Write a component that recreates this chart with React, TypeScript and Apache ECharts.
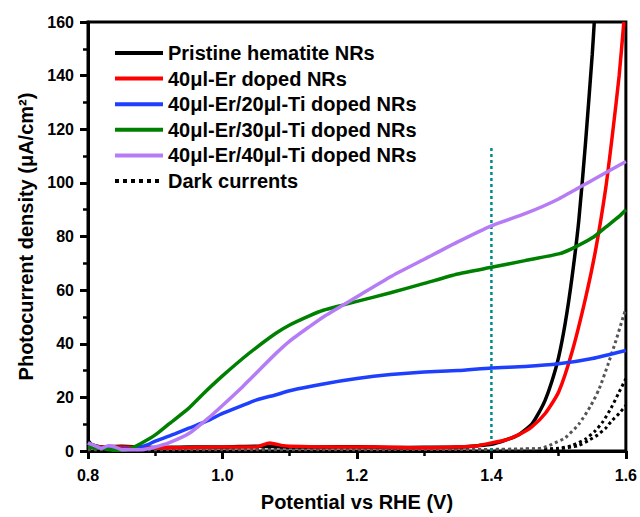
import React, { useEffect, useRef } from "react";
import * as echarts from "echarts";

// ---- data ----
const xTicks = [0.8, 1.0, 1.2, 1.4, 1.6];

const pristineX = [0.80, 0.805, 0.82, 0.85, 0.9, 0.95, 1.0, 1.05, 1.1, 1.15, 1.2, 1.25, 1.3, 1.35, 1.38, 1.40, 1.42, 1.44, 1.46, 1.47, 1.48, 1.49, 1.50, 1.51, 1.52, 1.53, 1.54, 1.55, 1.553];
const pristineY = [4, 2.5, 1.5, 1.8, 1.3, 1.5, 1.5, 1.8, 1.5, 1.5, 1.6, 1.3, 1.4, 1.5, 2, 2.5, 4, 6, 10, 14, 19, 26, 35, 48, 65, 86, 115, 148, 160];

const erX = [0.80, 0.82, 0.85, 0.9, 0.95, 1.0, 1.05, 1.07, 1.09, 1.1, 1.15, 1.2, 1.25, 1.3, 1.35, 1.38, 1.40, 1.42, 1.44, 1.46, 1.48, 1.50, 1.52, 1.54, 1.555, 1.57, 1.58, 1.59, 1.597];
const erY = [2, 1.5, 1.5, 1.2, 1.3, 1.5, 1.5, 3, 2, 1.8, 1.5, 1.5, 1.4, 1.2, 1.5, 2, 3, 4, 6, 9, 14, 22, 37, 57, 75, 98, 118, 140, 160];

const ti20X = [0.80, 0.81, 0.83, 0.85, 0.87, 0.89, 0.9, 0.93, 0.95, 0.98, 1.0, 1.03, 1.05, 1.08, 1.1, 1.15, 1.2, 1.25, 1.3, 1.35, 1.4, 1.45, 1.5, 1.55, 1.6];
const ti20Y = [3, 1.5, 1, 0.8, 1, 2.5, 3.7, 6.5, 8.5, 11.5, 14, 17, 19, 21, 22.5, 25, 27, 28.5, 29.5, 30, 31, 31.5, 32.5, 34.5, 37.5];

const ti30X = [0.80, 0.82, 0.84, 0.85, 0.86, 0.88, 0.9, 0.92, 0.95, 0.97, 1.0, 1.03, 1.05, 1.08, 1.1, 1.13, 1.15, 1.18, 1.2, 1.25, 1.3, 1.35, 1.4, 1.45, 1.5, 1.52, 1.55, 1.57, 1.59, 1.6];
const ti30Y = [1.5, 1, 0.3, 0.3, 0.5, 3, 6, 10, 16, 21, 28, 34.5, 38.5, 44, 47, 50.5, 52.5, 54.5, 55.8, 59, 62.5, 66, 68.5, 71, 73.5, 75.5, 79.5, 83.5, 87.5, 90];

const ti40X = [0.80, 0.81, 0.82, 0.83, 0.84, 0.85, 0.86, 0.88, 0.9, 0.92, 0.95, 0.98, 1.0, 1.03, 1.05, 1.08, 1.1, 1.13, 1.15, 1.2, 1.25, 1.3, 1.35, 1.4, 1.45, 1.5, 1.55, 1.6];
const ti40Y = [3, 2, 1, 2, 1.5, 0.5, 0.5, 0.5, 1.5, 3, 6.5, 12.5, 17, 24, 29, 36.5, 41, 46.5, 50, 57.5, 65, 71.5, 78, 84, 88.5, 94, 101, 108];

const dark1X = [0.8, 1.0, 1.2, 1.4, 1.45, 1.474, 1.49, 1.51, 1.53, 1.548, 1.56, 1.573, 1.585, 1.596, 1.6];
const dark1Y = [0.5, 0.5, 0.5, 0.6, 0.8, 1, 2.5, 5, 10, 17, 23, 32, 41, 50, 53];

const dark2X = [0.8, 1.0, 1.2, 1.4, 1.45, 1.5, 1.519, 1.54, 1.554, 1.566, 1.578, 1.59, 1.6];
const dark2Y = [0.5, 0.5, 0.5, 0.5, 0.6, 1, 2, 4.5, 7.4, 11, 16, 22, 27];

const dark3X = [0.8, 1.0, 1.2, 1.4, 1.5, 1.529, 1.545, 1.558, 1.57, 1.578, 1.59, 1.6];
const dark3Y = [0.3, 0.3, 0.3, 0.3, 0.8, 2, 4, 6, 8.5, 11, 14, 17];

const refX = [1.4, 1.4];
const refY = [0, 113];

const names = [
  "Pristine hematite NRs",
  "40μl-Er doped NRs",
  "40μl-Er/20μl-Ti doped NRs",
  "40μl-Er/30μl-Ti doped NRs",
  "40μl-Er/40μl-Ti doped NRs",
  "Dark currents",
];

const zip = (xs: number[], ys: number[]) => xs.map((x, i) => [x, ys[i]]);

const FONT = "'Liberation Sans', Arial, sans-serif";

export default function App() {
  const ref = useRef<HTMLDivElement>(null);
  useEffect(() => {
    if (!ref.current) return;
    const chart = echarts.init(ref.current, undefined, { renderer: "svg" });
    const solid = (name: string, xs: number[], ys: number[], color: string) => ({
      type: "line",
      name,
      data: zip(xs, ys),
      symbol: "none",
      smooth: 0.2,
      lineStyle: { color, width: 3.5 },
      itemStyle: { color },
    });
    const dotted = (xs: number[], ys: number[], color: string) => ({
      type: "line",
      name: "Dark currents",
      data: zip(xs, ys),
      symbol: "none",
      smooth: 0.2,
      lineStyle: { color, width: 3, type: "dotted" },
      itemStyle: { color },
    });
    chart.setOption({
      animation: false,
      backgroundColor: "#fff",
      grid: {
        left: 88,
        right: 12,
        top: 22,
        bottom: 64,
        show: true,
        borderColor: "#000",
        borderWidth: 3,
        backgroundColor: "transparent",
      },
      legend: {
        orient: "vertical",
        left: 108,
        top: 38,
        itemWidth: 48,
        itemHeight: 14,
        itemGap: 5.6,
        data: names,
        itemStyle: { opacity: 0 },
        lineStyle: { width: 4 },
        textStyle: { fontFamily: FONT, fontWeight: "bold", fontSize: 20, color: "#000", lineHeight: 20 },
      },
      xAxis: {
        type: "value",
        min: 0.8,
        max: 1.6,
        interval: 0.2,
        name: "Potential vs RHE (V)",
        nameLocation: "middle",
        nameGap: 41,
        nameTextStyle: { fontFamily: FONT, fontWeight: "bold", fontSize: 20, color: "#000" },
        axisLine: { lineStyle: { color: "#000", width: 3 } },
        axisTick: { show: true, length: 8, lineStyle: { width: 3, color: "#000" } },
        minorTick: { show: true, splitNumber: 2, length: 5, lineStyle: { width: 2.5, color: "#000" } },
        splitLine: { show: false },
        axisLabel: {
          margin: 16,
          fontFamily: FONT,
          fontWeight: "bold",
          fontSize: 16,
          color: "#000",
          formatter: (v: number) => v.toFixed(1),
          customValues: xTicks,
        },
      },
      yAxis: {
        type: "value",
        min: 0,
        max: 160,
        interval: 20,
        name: "Photocurrent density (μA/cm²)",
        nameLocation: "middle",
        nameGap: 51,
        nameTextStyle: { fontFamily: FONT, fontWeight: "bold", fontSize: 20, color: "#000" },
        axisLine: { show: true, lineStyle: { color: "#000", width: 3 } },
        axisTick: { show: true, length: 8, lineStyle: { width: 3, color: "#000" } },
        minorTick: { show: true, splitNumber: 2, length: 5, lineStyle: { width: 2.5, color: "#000" } },
        splitLine: { show: false },
        axisLabel: { margin: 14, fontFamily: FONT, fontWeight: "bold", fontSize: 16, color: "#000" },
      },
      series: [
        dotted(dark2X, dark2Y, "#000000"),
        dotted(dark3X, dark3Y, "#000000"),
        dotted(dark1X, dark1Y, "#555555"),
        {
          type: "line",
          name: "ref",
          data: zip(refX, refY),
          symbol: "none",
          lineStyle: { color: "#008b8b", width: 2.5, type: [3, 3] },
        },
        solid(names[0], pristineX, pristineY, "#000000"),
        solid(names[1], erX, erY, "#ff0000"),
        solid(names[2], ti20X, ti20Y, "#1f3fff"),
        solid(names[3], ti30X, ti30Y, "#008000"),
        solid(names[4], ti40X, ti40Y, "#b57cf5"),
      ],
    });
    return () => chart.dispose();
  }, []);
  return <div ref={ref} style={{ position: "fixed", left: 0, top: 0, width: 640, height: 517 }} />;
}
